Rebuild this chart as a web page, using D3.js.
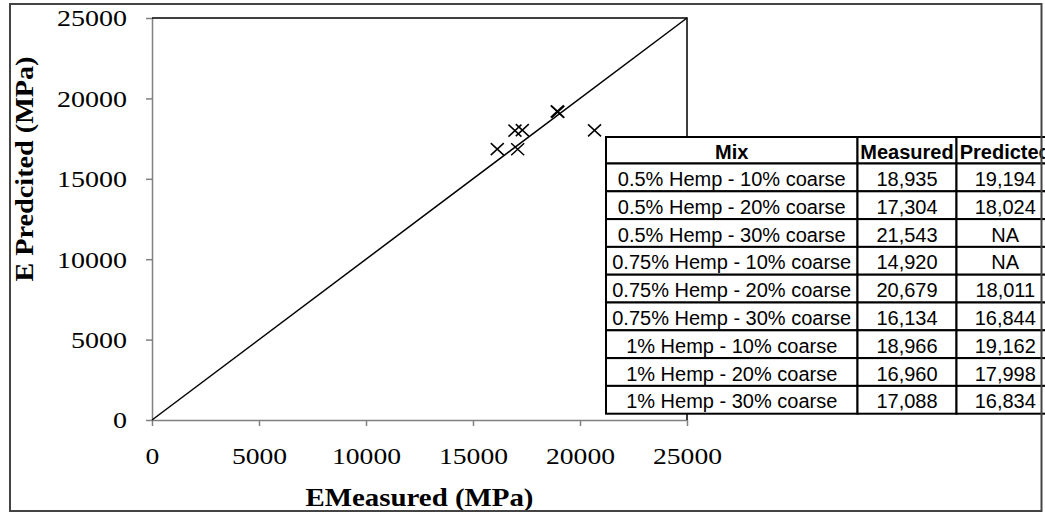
<html>
<head>
<meta charset="utf-8">
<script src="https://d3js.org/d3.v7.min.js"></script>
<style>
    body { margin: 0; background: #fff; }
    .tick text { font-family: "Liberation Serif", "Times New Roman", serif; font-size: 24px; fill: #000; }
    .axis path, .axis line { stroke: #808080; stroke-width: 1.5px; }
    .title { font-family: "Liberation Serif", "Times New Roman", serif; font-size: 25px; font-weight: bold; }
    .cell { font-family: "Liberation Sans", Arial, sans-serif; font-size: 20px; text-anchor: middle; }
</style>
</head>
<body>
<svg id="chart" width="1045" height="513"></svg>
<script>
    // table / scatter data
    let mixes = ["0.5% Hemp - 10% coarse", "0.5% Hemp - 20% coarse", "0.5% Hemp - 30% coarse",
                 "0.75% Hemp - 10% coarse", "0.75% Hemp - 20% coarse", "0.75% Hemp - 30% coarse",
                 "1% Hemp - 10% coarse", "1% Hemp - 20% coarse", "1% Hemp - 30% coarse"]
    let measured  = [18935, 17304, 21543, 14920, 20679, 16134, 18966, 16960, 17088]
    let predicted = [19194, 18024, null, null, 18011, 16844, 19162, 17998, 16834]
    let headers = ["Mix", "Measured", "Predicted"]
    let tickValues = [0, 5000, 10000, 15000, 20000, 25000]
    let lineOfEquality = [[0, 0], [25000, 25000]]

    let svg = d3.select("#chart")

    let x = d3.scaleLinear().domain([0, 25000]).range([152, 687])
    let y = d3.scaleLinear().domain([0, 25000]).range([420, 18])

    // axes
    let yAxis = svg.append("g")
        .attr("class", "axis")
        .attr("transform", "translate(" + x(0) + ",0)")
        .call(d3.axisLeft(y).tickValues(tickValues).tickFormat(d3.format("d"))
              .tickSize(6).tickSizeOuter(0).tickPadding(19))
    yAxis.selectAll("text")
        .attr("dy", "0.33em")
        .attr("textLength", d => String(d).length * 14)
        .attr("lengthAdjust", "spacingAndGlyphs")

    let xAxis = svg.append("g")
        .attr("class", "axis")
        .attr("transform", "translate(0," + y(0) + ")")
        .call(d3.axisBottom(x).tickValues(tickValues).tickFormat(d3.format("d"))
              .tickSize(6).tickSizeOuter(0))
    xAxis.selectAll("text")
        .attr("y", 44)
        .attr("dy", 0)
        .attr("textLength", d => String(d).length * 13.8)
        .attr("lengthAdjust", "spacingAndGlyphs")

    // top and right edge of the plot area
    svg.append("path")
        .attr("d", "M" + x(0) + "," + y(25000) + "H" + x(25000) + "V" + y(0))
        .attr("fill", "none")
        .attr("stroke", "#000")
        .attr("stroke-width", 1.5)

    // 1:1 line
    svg.append("path")
        .datum(lineOfEquality)
        .attr("d", d3.line().x(d => x(d[0])).y(d => y(d[1])))
        .attr("fill", "none")
        .attr("stroke", "#000")
        .attr("stroke-width", 1.5)

    // points (only mixes with a prediction)
    let points = measured.map((m, i) => ({ m: m, p: predicted[i] })).filter(d => d.p !== null)
    svg.selectAll(".pt")
        .data(points)
        .enter().append("path")
        .attr("class", "pt")
        .attr("transform", d => "translate(" + x(d.m) + "," + y(d.p) + ")")
        .attr("d", "M-6.5,-6L6.5,6M6.5,-6L-6.5,6")
        .attr("stroke", "#000")
        .attr("stroke-width", 1.5)

    // axis titles
    svg.append("text")
        .attr("class", "title")
        .attr("x", (x(0) + x(25000)) / 2)
        .attr("y", 506)
        .attr("text-anchor", "middle")
        .attr("textLength", 228)
        .attr("lengthAdjust", "spacingAndGlyphs")
        .text("EMeasured (MPa)")

    svg.append("text")
        .attr("class", "title")
        .attr("transform", "translate(33,169) rotate(-90)")
        .attr("text-anchor", "middle")
        .attr("textLength", 225)
        .attr("lengthAdjust", "spacingAndGlyphs")
        .text("E Predcited (MPa)")

    // data table (runs past the right frame, as in the original)
    let colEdges = [606, 857.5, 956.5, 1054]
    let headTop = 137, headH = 26.5, rowH = 27.8
    let fmt = d3.format(",")
    let rows = [headers].concat(mixes.map((m, i) => [m, fmt(measured[i]), predicted[i] === null ? "NA" : fmt(predicted[i])]))
    let rowTop = i => i === 0 ? headTop : headTop + headH + (i - 1) * rowH
    let rowHeight = i => i === 0 ? headH : rowH

    let table = svg.append("g")
    rows.forEach((r, i) => {
        r.forEach((v, j) => {
            table.append("rect")
                .attr("x", colEdges[j])
                .attr("y", rowTop(i))
                .attr("width", colEdges[j + 1] - colEdges[j])
                .attr("height", rowHeight(i))
                .attr("fill", "#fff")
                .attr("stroke", "#000")
                .attr("stroke-width", 2)
            table.append("text")
                .attr("class", "cell")
                .attr("x", (colEdges[j] + colEdges[j + 1]) / 2)
                .attr("y", rowTop(i) + rowHeight(i) / 2 + 8.5)
                .attr("font-weight", i === 0 ? "bold" : "normal")
                .attr("font-size", i === 0 ? "19.5px" : "20px")
                .text(v)
        })
    })

    // chart frame
    svg.append("rect")
        .attr("x", 10)
        .attr("y", 4)
        .attr("width", 1031.5)
        .attr("height", 507)
        .attr("fill", "none")
        .attr("stroke", "#444")
        .attr("stroke-width", 2)
</script>
</body>
</html>
